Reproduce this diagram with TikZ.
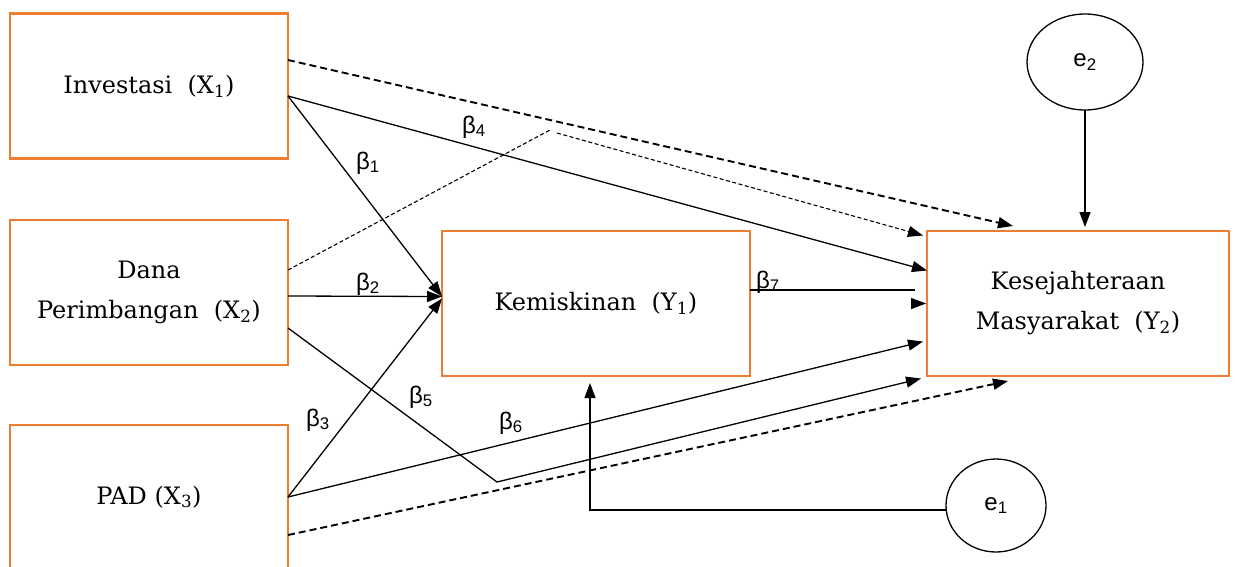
\documentclass[tikz,border=0pt]{standalone}
\usepackage{fontspec}
\setmainfont{DejaVu Serif}
\newfontfamily\lblfont{Liberation Sans}
\usetikzlibrary{arrows.meta,shapes.geometric}
\definecolor{boxorange}{RGB}{237,125,49}
\begin{document}
\begin{tikzpicture}[x=1pt,y=-1pt,
  box/.style={draw=boxorange, line width=2.2pt, minimum width=278pt, minimum height=145pt,
    inner sep=0pt, outer sep=0pt, align=center, font=\fontsize{24}{40}\selectfont},
  eps/.style={draw, ellipse, line width=1.3pt, inner sep=0pt, outer sep=0pt, font=\lblfont\fontsize{24}{26}\selectfont},
  lbl/.style={font=\lblfont\fontsize{24}{26}\selectfont, inner sep=0pt},
  conn/.style={line width=1.3pt},
  tip/.style={-{Triangle[length=15pt,width=11pt]}},
  arr/.style={conn, tip},
  dashthick/.style={line width=1.9pt, dash pattern=on 7pt off 4pt},
  dashthin/.style={line width=1.1pt, dash pattern=on 4pt off 2.5pt}
]
\useasboundingbox (0,0) rectangle (1236,566);
\fill[white] (0,0) rectangle (1236,566);

% boxes
\node[box] (inv) at (149,86) {Investasi\ \ (X\textsubscript{1})};
\node[box] (dana) at (149,292.5) {Dana\\Perimbangan\ \ (X\textsubscript{2})};
\node[box, minimum height=144pt] (pad) at (149,497) {PAD (X\textsubscript{3})};
\node[box, minimum width=308pt] (kem) at (596,303.5) {Kemiskinan\ \ (Y\textsubscript{1})};
\node[box, minimum width=302pt] (kes) at (1078,303.5) {Kesejahteraan\\Masyarakat\ \ (Y\textsubscript{2})};

% error terms
\node[eps, minimum width=116pt, minimum height=96pt] (e2) at (1085,62) {e\textsubscript{2}};
\node[eps, minimum width=100pt, minimum height=93pt] (e1) at (996,505.5) {e\textsubscript{1}};

% helper coordinates
\coordinate (dk1) at (550,130);
\coordinate (dk2) at (557,133);
\coordinate (bend) at (497,482);

% connectors from Investasi
\draw[dashthick, tip] ([yshift=26]inv.east) -- ([xshift=-65,yshift=5]kes.north);
\draw[arr] ([yshift=-10]inv.east) -- ([yshift=33]kes.west);
\draw[arr] ([yshift=-10]inv.east) -- ([yshift=7]kem.west);

% connectors from Dana Perimbangan
\draw[dashthin] ([yshift=22.5]dana.east) -- (dk1);
\draw[dashthin, tip] (dk2) -- ([xshift=-4,yshift=68]kes.west);
\draw[arr] ([yshift=-3.5]dana.east) -- ([yshift=7]kem.west);
\draw[arr] ([yshift=-35.5]dana.east) -- (bend) -- ([xshift=-6,yshift=-75]kes.west);

% connectors from PAD
\draw[arr] (pad.east) -- ([yshift=5]kem.west);
\draw[arr] (pad.east) -- ([xshift=-4,yshift=-38]kes.west);
\draw[dashthick, tip] ([yshift=-38]pad.east) -- ([xshift=-70,yshift=-5]kes.south);

% Kemiskinan to Kesejahteraan
\draw[conn] ([yshift=13.5]kem.east) -- ([xshift=-12,yshift=13.5]kes.west);
\draw[arr] ([xshift=-16]kes.west) -- ([xshift=-1]kes.west);

% error arrows
\draw[arr] ([yshift=-4.5]e1.west) -| ([xshift=-6,yshift=-7]kem.south);
\draw[arr] (e2.south) -- ([xshift=7,yshift=4]kes.north);

% coefficient labels
\node[lbl] (b1) at (368,163) {β\textsubscript{1}};
\node[lbl] (b4) at (474,127) {β\textsubscript{4}};
\node[lbl] (b2) at (368,284) {β\textsubscript{2}};
\node[lbl] (b3) at (318,420) {β\textsubscript{3}};
\node[lbl] (b5) at (421,397) {β\textsubscript{5}};
\node[lbl] (b6) at (511,423) {β\textsubscript{6}};
\node[lbl] (b7) at (768,282) {β\textsubscript{7}};
\end{tikzpicture}
\end{document}
